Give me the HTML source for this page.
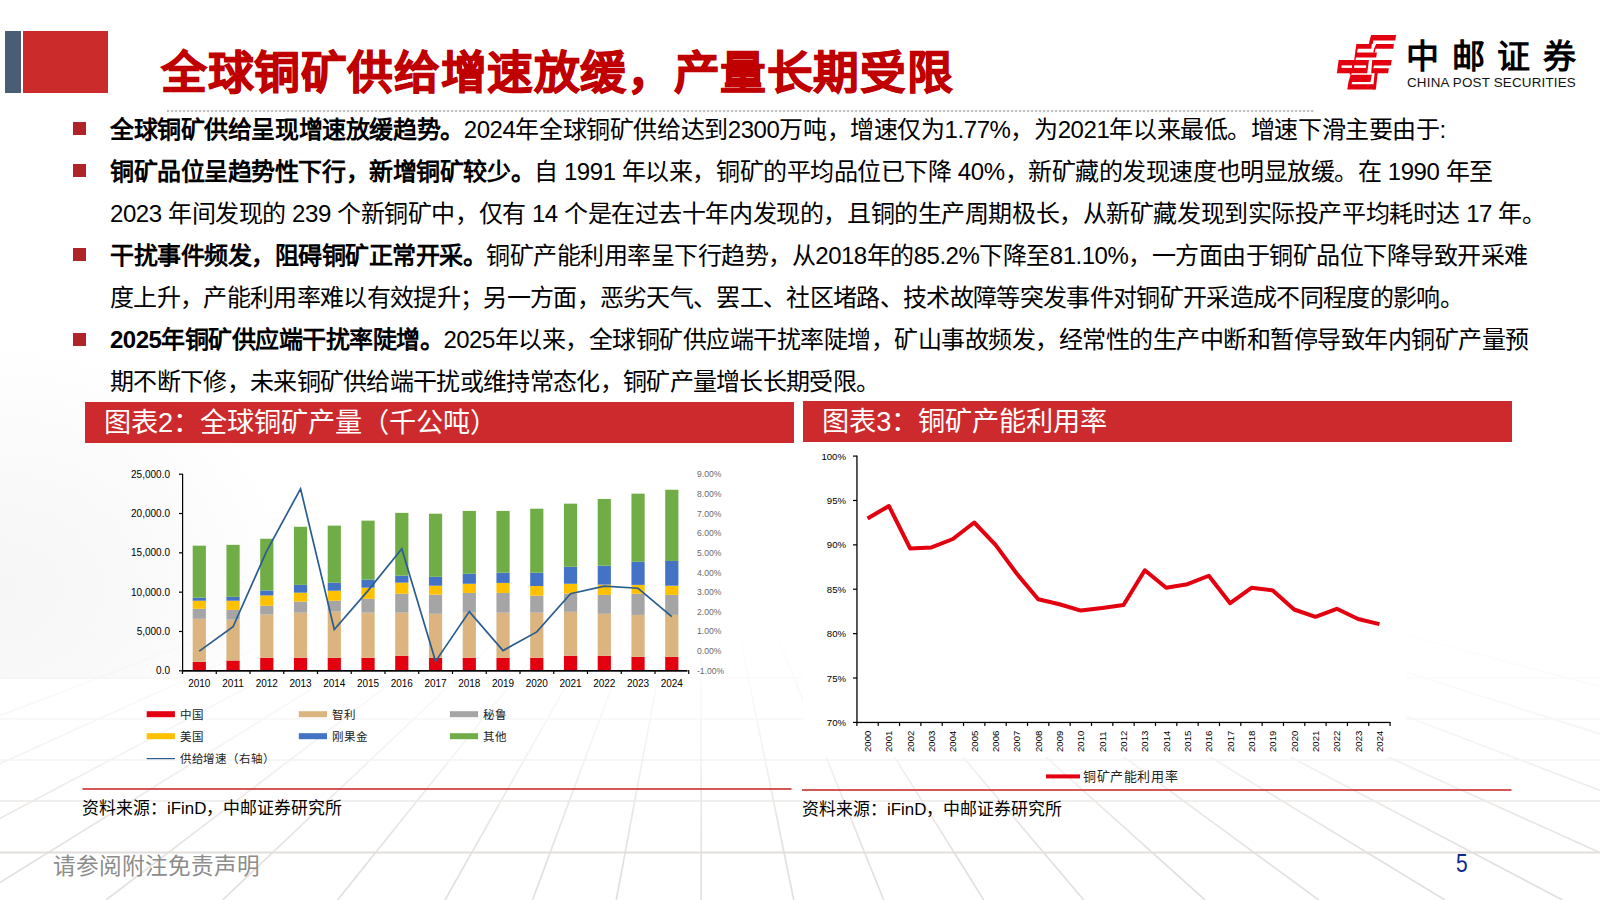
<!DOCTYPE html>
<html lang="zh-CN"><head><meta charset="utf-8">
<style>
html,body{margin:0;padding:0;}
body{width:1600px;height:900px;position:relative;overflow:hidden;background:#fff;font-family:"Liberation Sans",sans-serif;color:#000;}
.abs{position:absolute;white-space:nowrap;}
.bg{position:absolute;left:0;top:0;}
.line{position:absolute;left:110px;font-size:24px;line-height:30px;white-space:nowrap;color:#000;}
.line b{font-weight:bold;}
.bul{position:absolute;left:73.2px;width:13.1px;height:13.1px;background:#B02428;}
.hdr{position:absolute;background:#CC2A2D;color:#fff;font-size:27.2px;line-height:42px;white-space:nowrap;}
.src{position:absolute;font-size:16.9px;line-height:20px;white-space:nowrap;color:#000;}
svg text{font-family:"Liberation Sans",sans-serif;}
.ax{font-size:10px;fill:#000;}
.axr{font-size:8.6px;fill:#6A6A6A;}
.ax3{font-size:9.6px;fill:#000;}
.lg{font-size:11.5px;fill:#222;letter-spacing:0.9px;}
.lg3{font-size:13px;fill:#222;letter-spacing:0.6px;}
</style></head>
<body>
<svg class="bg" width="1600" height="900" viewBox="0 0 1600 900">
<defs>
<linearGradient id="fade" x1="0" y1="0" x2="0" y2="900" gradientUnits="userSpaceOnUse">
<stop offset="0" stop-color="#fff" stop-opacity="1"/>
<stop offset="0.69" stop-color="#fff" stop-opacity="1"/>
<stop offset="0.767" stop-color="#fff" stop-opacity="0.82"/>
<stop offset="0.845" stop-color="#fff" stop-opacity="0.6"/>
<stop offset="0.89" stop-color="#fff" stop-opacity="0.3"/>
<stop offset="0.96" stop-color="#fff" stop-opacity="0"/>
<stop offset="1" stop-color="#fff" stop-opacity="0"/>
</linearGradient>
<radialGradient id="shade" cx="0.5" cy="0.5" r="0.5">
<stop offset="0" stop-color="#000" stop-opacity="0.035"/>
<stop offset="0.5" stop-color="#000" stop-opacity="0.022"/>
<stop offset="1" stop-color="#000" stop-opacity="0"/>
</radialGradient>
<clipPath id="shclip"><rect x="0" y="0" width="1600" height="679"/></clipPath>
</defs>
<g stroke="#E4E0DD" stroke-width="1.7" fill="none">
<line x1="614.89" y1="480" x2="-481" y2="900"/>
<line x1="627.93" y1="480" x2="-302" y2="900"/>
<line x1="638.72" y1="480" x2="-154" y2="900"/>
<line x1="647.89" y1="480" x2="-28" y2="900"/>
<line x1="657.66" y1="480" x2="106" y2="900"/>
<line x1="666.14" y1="480" x2="222.5" y2="900"/>
<line x1="674.52" y1="480" x2="337.5" y2="900"/>
<line x1="682.35" y1="480" x2="445" y2="900"/>
<line x1="688.73" y1="480" x2="532.5" y2="900"/>
<line x1="694.83" y1="480" x2="616.25" y2="900"/>
<line x1="701.02" y1="480" x2="701.25" y2="900"/>
<line x1="707.76" y1="480" x2="793.75" y2="900"/>
<line x1="714.31" y1="480" x2="883.75" y2="900"/>
<line x1="721.6" y1="480" x2="983.75" y2="900"/>
<line x1="728.88" y1="480" x2="1083.75" y2="900"/>
<line x1="737.72" y1="480" x2="1205" y2="900"/>
<line x1="746" y1="480" x2="1318.75" y2="900"/>
<line x1="755.2" y1="480" x2="1445" y2="900"/>
<line x1="763.76" y1="480" x2="1562.5" y2="900"/>
<line x1="774.14" y1="480" x2="1705" y2="900"/>
<line x1="787.4" y1="480" x2="1887" y2="900"/>
<line x1="804.37" y1="480" x2="2120" y2="900"/>
<line x1="824.77" y1="480" x2="2400" y2="900"/>
<line x1="0" y1="596" x2="1600" y2="596"/>
<line x1="0" y1="637" x2="1600" y2="637"/>
<line x1="0" y1="678" x2="1600" y2="678"/>
<line x1="0" y1="719" x2="1600" y2="719"/>
<line x1="0" y1="760" x2="1600" y2="760"/>
<line x1="0" y1="801" x2="1600" y2="801"/>
</g>
<rect x="0" y="0" width="1600" height="900" fill="url(#fade)"/>
<line x1="0" y1="852.5" x2="1600" y2="852.5" stroke="#E3DFDC" stroke-width="2"/>
<ellipse cx="0" cy="590" rx="300" ry="250" fill="url(#shade)" clip-path="url(#shclip)"/>
<rect x="803" y="443" width="603" height="314" fill="#fff"/>
</svg>

<div class="abs" style="left:4.5px;top:31.2px;width:16.1px;height:62.3px;background:#4A5D77"></div>
<div class="abs" style="left:23.4px;top:31.2px;width:84.4px;height:62.3px;background:#CC2B2C"></div>
<div class="abs" id="title" style="left:161px;top:43.8px;font-size:45.8px;line-height:60px;font-weight:bold;color:#C00000;letter-spacing:0.6px;-webkit-text-stroke:1px #C00000">全球铜矿供给增速放缓，产量长期受限</div>

<svg class="bg" width="1600" height="900" viewBox="0 0 1600 900">
<svg x="1330" y="30" width="80" height="65" viewBox="0 0 1108 900">
<g fill="#E3000F">
<polygon points="570,70 915,70 905,145 600,145 592,195 540,195 548,145"/>
<polygon points="365,195 580,195 572,260 385,260 375,310 650,310 640,380 360,380 355,415 335,415 340,380"/>
<polygon points="640,195 885,195 877,260 630,260 622,310 600,310 610,260"/>
<polygon points="120,415 540,415 515,600 300,600 295,620 270,620 275,600 95,600"/>
<polygon points="585,415 855,415 843,490 610,490 600,530 815,530 805,600 570,600"/>
<polygon points="285,620 580,620 560,720 305,720 300,750 640,750 625,825 240,825 255,720"/>
<polygon points="625,530 668,530 635,825 595,825"/>
</g>
<g fill="#fff">
<rect x="160" y="490" width="145" height="35"/>
<rect x="335" y="490" width="165" height="35"/>
</g>
</svg>
<line x1="167" y1="111" x2="1315" y2="111" stroke="#BDBDBD" stroke-width="2.2" stroke-dasharray="2.2 1.8"/>
</svg>
<div class="abs" id="logo1" style="left:1406px;top:35.5px;font-size:33px;line-height:42px;font-weight:bold;letter-spacing:12.5px;color:#000">中邮证券</div>
<div class="abs" id="logo2" style="left:1407px;top:74.5px;font-size:13.4px;letter-spacing:0.19px;line-height:16px;color:#111">CHINA POST SECURITIES</div>

<div class="bul" style="top:122.1px"></div>
<div class="bul" style="top:164.1px"></div>
<div class="bul" style="top:248.3px"></div>
<div class="bul" style="top:332.5px"></div>

<div class="line" id="l1" style="top:115px;letter-spacing:-0.417px"><b>全球铜矿供给呈现增速放缓趋势。</b>2024年全球铜矿供给达到2300万吨，增速仅为1.77%，为2021年以来最低。增速下滑主要由于:</div>
<div class="line" id="l2" style="top:157px;letter-spacing:-0.439px"><b>铜矿品位呈趋势性下行，新增铜矿较少。</b>自 1991 年以来，铜矿的平均品位已下降 40%，新矿藏的发现速度也明显放缓。在 1990 年至</div>
<div class="line" id="l3" style="top:199px;letter-spacing:-0.424px">2023 年间发现的 239 个新铜矿中，仅有 14 个是在过去十年内发现的，且铜的生产周期极长，从新矿藏发现到实际投产平均耗时达 17 年。</div>
<div class="line" id="l4" style="top:241px;letter-spacing:-0.491px"><b>干扰事件频发，阻碍铜矿正常开采。</b>铜矿产能利用率呈下行趋势，从2018年的85.2%下降至81.10%，一方面由于铜矿品位下降导致开采难</div>
<div class="line" id="l5" style="top:283px;letter-spacing:-0.674px">度上升，产能利用率难以有效提升；另一方面，恶劣天气、罢工、社区堵路、技术故障等突发事件对铜矿开采造成不同程度的影响。</div>
<div class="line" id="l6" style="top:325px;letter-spacing:-0.499px"><b>2025年铜矿供应端干扰率陡增。</b>2025年以来，全球铜矿供应端干扰率陡增，矿山事故频发，经常性的生产中断和暂停导致年内铜矿产量预</div>
<div class="line" id="l7" style="top:367px;letter-spacing:-0.6875px">期不断下修，未来铜矿供给端干扰或维持常态化，铜矿产量增长长期受限。</div>

<div class="hdr" style="left:85px;top:402.3px;width:708.8px;height:41px"><span id="h2" style="position:absolute;left:19px;top:0">图表2：全球铜矿产量（千公吨）</span></div>
<div class="hdr" style="left:803.3px;top:401.1px;width:708.5px;height:41.3px"><span id="h3" style="position:absolute;left:19px;top:0">图表3：铜矿产能利用率</span></div>

<svg class="bg" width="1600" height="900" viewBox="0 0 1600 900">
<rect x="192.7" y="661.91" width="13.2" height="8.89" fill="#E3000F"/>
<rect x="192.7" y="618.8" width="13.2" height="43.1" fill="#DBB47F"/>
<rect x="192.7" y="608.79" width="13.2" height="10.01" fill="#A5A5A5"/>
<rect x="192.7" y="600.72" width="13.2" height="8.07" fill="#FFC000"/>
<rect x="192.7" y="597.66" width="13.2" height="3.06" fill="#4472C4"/>
<rect x="192.7" y="545.67" width="13.2" height="52" fill="#70AD47"/>
<rect x="226.45" y="660.51" width="13.2" height="10.29" fill="#E3000F"/>
<rect x="226.45" y="619.64" width="13.2" height="40.88" fill="#DBB47F"/>
<rect x="226.45" y="609.9" width="13.2" height="9.74" fill="#A5A5A5"/>
<rect x="226.45" y="600.72" width="13.2" height="9.18" fill="#FFC000"/>
<rect x="226.45" y="596.83" width="13.2" height="3.89" fill="#4472C4"/>
<rect x="226.45" y="544.83" width="13.2" height="52" fill="#70AD47"/>
<rect x="260.2" y="657.73" width="13.2" height="13.07" fill="#E3000F"/>
<rect x="260.2" y="614.63" width="13.2" height="43.1" fill="#DBB47F"/>
<rect x="260.2" y="605.73" width="13.2" height="8.89" fill="#A5A5A5"/>
<rect x="260.2" y="595.44" width="13.2" height="10.29" fill="#FFC000"/>
<rect x="260.2" y="590.44" width="13.2" height="5" fill="#4472C4"/>
<rect x="260.2" y="538.72" width="13.2" height="51.72" fill="#70AD47"/>
<rect x="293.95" y="657.73" width="13.2" height="13.07" fill="#E3000F"/>
<rect x="293.95" y="612.69" width="13.2" height="45.04" fill="#DBB47F"/>
<rect x="293.95" y="601.56" width="13.2" height="11.13" fill="#A5A5A5"/>
<rect x="293.95" y="592.66" width="13.2" height="8.89" fill="#FFC000"/>
<rect x="293.95" y="584.88" width="13.2" height="7.79" fill="#4472C4"/>
<rect x="293.95" y="526.76" width="13.2" height="58.11" fill="#70AD47"/>
<rect x="327.7" y="657.73" width="13.2" height="13.07" fill="#E3000F"/>
<rect x="327.7" y="611.58" width="13.2" height="46.15" fill="#DBB47F"/>
<rect x="327.7" y="600.72" width="13.2" height="10.85" fill="#A5A5A5"/>
<rect x="327.7" y="590.71" width="13.2" height="10.01" fill="#FFC000"/>
<rect x="327.7" y="582.65" width="13.2" height="8.06" fill="#4472C4"/>
<rect x="327.7" y="525.65" width="13.2" height="57.01" fill="#70AD47"/>
<rect x="361.45" y="657.73" width="13.2" height="13.07" fill="#E3000F"/>
<rect x="361.45" y="612.69" width="13.2" height="45.04" fill="#DBB47F"/>
<rect x="361.45" y="598.78" width="13.2" height="13.9" fill="#A5A5A5"/>
<rect x="361.45" y="587.65" width="13.2" height="11.13" fill="#FFC000"/>
<rect x="361.45" y="579.59" width="13.2" height="8.06" fill="#4472C4"/>
<rect x="361.45" y="520.64" width="13.2" height="58.96" fill="#70AD47"/>
<rect x="395.2" y="655.79" width="13.2" height="15.01" fill="#E3000F"/>
<rect x="395.2" y="612.69" width="13.2" height="43.1" fill="#DBB47F"/>
<rect x="395.2" y="593.77" width="13.2" height="18.91" fill="#A5A5A5"/>
<rect x="395.2" y="582.65" width="13.2" height="11.12" fill="#FFC000"/>
<rect x="395.2" y="575.7" width="13.2" height="6.95" fill="#4472C4"/>
<rect x="395.2" y="512.85" width="13.2" height="62.85" fill="#70AD47"/>
<rect x="428.95" y="657.73" width="13.2" height="13.07" fill="#E3000F"/>
<rect x="428.95" y="613.79" width="13.2" height="43.94" fill="#DBB47F"/>
<rect x="428.95" y="594.61" width="13.2" height="19.19" fill="#A5A5A5"/>
<rect x="428.95" y="585.71" width="13.2" height="8.89" fill="#FFC000"/>
<rect x="428.95" y="576.81" width="13.2" height="8.9" fill="#4472C4"/>
<rect x="428.95" y="513.69" width="13.2" height="63.12" fill="#70AD47"/>
<rect x="462.7" y="657.73" width="13.2" height="13.07" fill="#E3000F"/>
<rect x="462.7" y="612.69" width="13.2" height="45.04" fill="#DBB47F"/>
<rect x="462.7" y="592.94" width="13.2" height="19.75" fill="#A5A5A5"/>
<rect x="462.7" y="583.76" width="13.2" height="9.18" fill="#FFC000"/>
<rect x="462.7" y="573.75" width="13.2" height="10.01" fill="#4472C4"/>
<rect x="462.7" y="510.91" width="13.2" height="62.84" fill="#70AD47"/>
<rect x="496.45" y="657.73" width="13.2" height="13.07" fill="#E3000F"/>
<rect x="496.45" y="612.69" width="13.2" height="45.04" fill="#DBB47F"/>
<rect x="496.45" y="592.94" width="13.2" height="19.75" fill="#A5A5A5"/>
<rect x="496.45" y="582.93" width="13.2" height="10.01" fill="#FFC000"/>
<rect x="496.45" y="572.64" width="13.2" height="10.29" fill="#4472C4"/>
<rect x="496.45" y="510.91" width="13.2" height="61.73" fill="#70AD47"/>
<rect x="530.2" y="657.73" width="13.2" height="13.07" fill="#E3000F"/>
<rect x="530.2" y="612.69" width="13.2" height="45.04" fill="#DBB47F"/>
<rect x="530.2" y="595.72" width="13.2" height="16.96" fill="#A5A5A5"/>
<rect x="530.2" y="585.99" width="13.2" height="9.74" fill="#FFC000"/>
<rect x="530.2" y="572.64" width="13.2" height="13.35" fill="#4472C4"/>
<rect x="530.2" y="508.68" width="13.2" height="63.96" fill="#70AD47"/>
<rect x="563.95" y="655.79" width="13.2" height="15.01" fill="#E3000F"/>
<rect x="563.95" y="611.85" width="13.2" height="43.94" fill="#DBB47F"/>
<rect x="563.95" y="593.5" width="13.2" height="18.35" fill="#A5A5A5"/>
<rect x="563.95" y="583.76" width="13.2" height="9.74" fill="#FFC000"/>
<rect x="563.95" y="566.8" width="13.2" height="16.96" fill="#4472C4"/>
<rect x="563.95" y="503.67" width="13.2" height="63.12" fill="#70AD47"/>
<rect x="597.7" y="655.79" width="13.2" height="15.01" fill="#E3000F"/>
<rect x="597.7" y="613.79" width="13.2" height="41.99" fill="#DBB47F"/>
<rect x="597.7" y="594.89" width="13.2" height="18.91" fill="#A5A5A5"/>
<rect x="597.7" y="584.59" width="13.2" height="10.29" fill="#FFC000"/>
<rect x="597.7" y="565.69" width="13.2" height="18.91" fill="#4472C4"/>
<rect x="597.7" y="498.95" width="13.2" height="66.74" fill="#70AD47"/>
<rect x="631.45" y="656.9" width="13.2" height="13.9" fill="#E3000F"/>
<rect x="631.45" y="614.91" width="13.2" height="41.99" fill="#DBB47F"/>
<rect x="631.45" y="593.77" width="13.2" height="21.14" fill="#A5A5A5"/>
<rect x="631.45" y="584.88" width="13.2" height="8.89" fill="#FFC000"/>
<rect x="631.45" y="561.8" width="13.2" height="23.08" fill="#4472C4"/>
<rect x="631.45" y="493.66" width="13.2" height="68.13" fill="#70AD47"/>
<rect x="665.2" y="656.9" width="13.2" height="13.9" fill="#E3000F"/>
<rect x="665.2" y="614.91" width="13.2" height="41.99" fill="#DBB47F"/>
<rect x="665.2" y="594.89" width="13.2" height="20.02" fill="#A5A5A5"/>
<rect x="665.2" y="585.71" width="13.2" height="9.18" fill="#FFC000"/>
<rect x="665.2" y="560.96" width="13.2" height="24.75" fill="#4472C4"/>
<rect x="665.2" y="489.77" width="13.2" height="71.19" fill="#70AD47"/>
<rect x="182" y="474" width="1.2" height="197.5" fill="#000"/>
<rect x="182" y="670" width="505.5" height="1.7" fill="#000"/>
<rect x="179" y="670.2" width="4" height="1.2" fill="#000"/>
<rect x="179" y="630.88" width="4" height="1.2" fill="#000"/>
<rect x="179" y="591.56" width="4" height="1.2" fill="#000"/>
<rect x="179" y="552.24" width="4" height="1.2" fill="#000"/>
<rect x="179" y="512.92" width="4" height="1.2" fill="#000"/>
<rect x="179" y="473.6" width="4" height="1.2" fill="#000"/>
<rect x="181.9" y="670" width="1.2" height="4" fill="#000"/>
<rect x="215.65" y="670" width="1.2" height="4" fill="#000"/>
<rect x="249.4" y="670" width="1.2" height="4" fill="#000"/>
<rect x="283.15" y="670" width="1.2" height="4" fill="#000"/>
<rect x="316.9" y="670" width="1.2" height="4" fill="#000"/>
<rect x="350.65" y="670" width="1.2" height="4" fill="#000"/>
<rect x="384.4" y="670" width="1.2" height="4" fill="#000"/>
<rect x="418.15" y="670" width="1.2" height="4" fill="#000"/>
<rect x="451.9" y="670" width="1.2" height="4" fill="#000"/>
<rect x="485.65" y="670" width="1.2" height="4" fill="#000"/>
<rect x="519.4" y="670" width="1.2" height="4" fill="#000"/>
<rect x="553.15" y="670" width="1.2" height="4" fill="#000"/>
<rect x="586.9" y="670" width="1.2" height="4" fill="#000"/>
<rect x="620.65" y="670" width="1.2" height="4" fill="#000"/>
<rect x="654.4" y="670" width="1.2" height="4" fill="#000"/>
<rect x="688.15" y="670" width="1.2" height="4" fill="#000"/>
<text x="170" y="674.4" text-anchor="end" class="ax">0.0</text>
<text x="170" y="635.08" text-anchor="end" class="ax">5,000.0</text>
<text x="170" y="595.76" text-anchor="end" class="ax">10,000.0</text>
<text x="170" y="556.44" text-anchor="end" class="ax">15,000.0</text>
<text x="170" y="517.12" text-anchor="end" class="ax">20,000.0</text>
<text x="170" y="477.8" text-anchor="end" class="ax">25,000.0</text>
<text x="199.3" y="686.5" text-anchor="middle" class="ax">2010</text>
<text x="233.05" y="686.5" text-anchor="middle" class="ax">2011</text>
<text x="266.8" y="686.5" text-anchor="middle" class="ax">2012</text>
<text x="300.55" y="686.5" text-anchor="middle" class="ax">2013</text>
<text x="334.3" y="686.5" text-anchor="middle" class="ax">2014</text>
<text x="368.05" y="686.5" text-anchor="middle" class="ax">2015</text>
<text x="401.8" y="686.5" text-anchor="middle" class="ax">2016</text>
<text x="435.55" y="686.5" text-anchor="middle" class="ax">2017</text>
<text x="469.3" y="686.5" text-anchor="middle" class="ax">2018</text>
<text x="503.05" y="686.5" text-anchor="middle" class="ax">2019</text>
<text x="536.8" y="686.5" text-anchor="middle" class="ax">2020</text>
<text x="570.55" y="686.5" text-anchor="middle" class="ax">2021</text>
<text x="604.3" y="686.5" text-anchor="middle" class="ax">2022</text>
<text x="638.05" y="686.5" text-anchor="middle" class="ax">2023</text>
<text x="671.8" y="686.5" text-anchor="middle" class="ax">2024</text>
<text x="697" y="673.8" class="axr">-1.00%</text>
<text x="697" y="654.14" class="axr">0.00%</text>
<text x="697" y="634.48" class="axr">1.00%</text>
<text x="697" y="614.82" class="axr">2.00%</text>
<text x="697" y="595.16" class="axr">3.00%</text>
<text x="697" y="575.5" class="axr">4.00%</text>
<text x="697" y="555.84" class="axr">5.00%</text>
<text x="697" y="536.18" class="axr">6.00%</text>
<text x="697" y="516.52" class="axr">7.00%</text>
<text x="697" y="496.86" class="axr">8.00%</text>
<text x="697" y="477.2" class="axr">9.00%</text>
<polyline points="199.3,651.14 233.05,626.76 266.8,550.87 300.55,488.75 334.3,629.51 368.05,590.59 401.8,548.71 435.55,661.36 469.3,611.62 503.05,650.55 536.8,631.87 570.55,593.73 604.3,586.07 638.05,588.23 671.8,616.54" fill="none" stroke="#2A5D8F" stroke-width="1.7" stroke-linejoin="miter"/>
<rect x="146.7" y="711.2" width="28.2" height="6" fill="#E3000F"/>
<text x="179.7" y="718.5" class="lg">中国</text>
<rect x="298.8" y="711.2" width="28.2" height="6" fill="#DBB47F"/>
<text x="331.8" y="718.5" class="lg">智利</text>
<rect x="449.9" y="711.2" width="28.2" height="6" fill="#A5A5A5"/>
<text x="482.9" y="718.5" class="lg">秘鲁</text>
<rect x="146.7" y="733.2" width="28.2" height="6" fill="#FFC000"/>
<text x="179.7" y="740.5" class="lg">美国</text>
<rect x="298.8" y="733.2" width="28.2" height="6" fill="#4472C4"/>
<text x="331.8" y="740.5" class="lg">刚果金</text>
<rect x="449.9" y="733.2" width="28.2" height="6" fill="#70AD47"/>
<text x="482.9" y="740.5" class="lg">其他</text>
<rect x="146.7" y="758" width="28.2" height="1.2" fill="#2A5D8F"/>
<text x="179.7" y="762.8" class="lg">供给增速（右轴）</text>
<rect x="856.3" y="455.6" width="1.3" height="267.5" fill="#000"/>
<rect x="856.3" y="721.8" width="534" height="1.3" fill="#000"/>
<rect x="853" y="455.5" width="4" height="1.2" fill="#000"/>
<text x="846" y="459.7" text-anchor="end" class="ax3">100%</text>
<rect x="853" y="499.88" width="4" height="1.2" fill="#000"/>
<text x="846" y="504.08" text-anchor="end" class="ax3">95%</text>
<rect x="853" y="544.27" width="4" height="1.2" fill="#000"/>
<text x="846" y="548.47" text-anchor="end" class="ax3">90%</text>
<rect x="853" y="588.65" width="4" height="1.2" fill="#000"/>
<text x="846" y="592.85" text-anchor="end" class="ax3">85%</text>
<rect x="853" y="633.03" width="4" height="1.2" fill="#000"/>
<text x="846" y="637.23" text-anchor="end" class="ax3">80%</text>
<rect x="853" y="677.42" width="4" height="1.2" fill="#000"/>
<text x="846" y="681.62" text-anchor="end" class="ax3">75%</text>
<rect x="853" y="721.8" width="4" height="1.2" fill="#000"/>
<text x="846" y="726" text-anchor="end" class="ax3">70%</text>
<rect x="856.3" y="722" width="1.2" height="4" fill="#000"/>
<rect x="877.63" y="722" width="1.2" height="4" fill="#000"/>
<rect x="898.96" y="722" width="1.2" height="4" fill="#000"/>
<rect x="920.28" y="722" width="1.2" height="4" fill="#000"/>
<rect x="941.61" y="722" width="1.2" height="4" fill="#000"/>
<rect x="962.94" y="722" width="1.2" height="4" fill="#000"/>
<rect x="984.27" y="722" width="1.2" height="4" fill="#000"/>
<rect x="1005.6" y="722" width="1.2" height="4" fill="#000"/>
<rect x="1026.92" y="722" width="1.2" height="4" fill="#000"/>
<rect x="1048.25" y="722" width="1.2" height="4" fill="#000"/>
<rect x="1069.58" y="722" width="1.2" height="4" fill="#000"/>
<rect x="1090.91" y="722" width="1.2" height="4" fill="#000"/>
<rect x="1112.24" y="722" width="1.2" height="4" fill="#000"/>
<rect x="1133.56" y="722" width="1.2" height="4" fill="#000"/>
<rect x="1154.89" y="722" width="1.2" height="4" fill="#000"/>
<rect x="1176.22" y="722" width="1.2" height="4" fill="#000"/>
<rect x="1197.55" y="722" width="1.2" height="4" fill="#000"/>
<rect x="1218.88" y="722" width="1.2" height="4" fill="#000"/>
<rect x="1240.2" y="722" width="1.2" height="4" fill="#000"/>
<rect x="1261.53" y="722" width="1.2" height="4" fill="#000"/>
<rect x="1282.86" y="722" width="1.2" height="4" fill="#000"/>
<rect x="1304.19" y="722" width="1.2" height="4" fill="#000"/>
<rect x="1325.52" y="722" width="1.2" height="4" fill="#000"/>
<rect x="1346.84" y="722" width="1.2" height="4" fill="#000"/>
<rect x="1368.17" y="722" width="1.2" height="4" fill="#000"/>
<rect x="1389.5" y="722" width="1.2" height="4" fill="#000"/>
<text transform="translate(871.16,752) rotate(-90)" class="ax3">2000</text>
<text transform="translate(892.49,752) rotate(-90)" class="ax3">2001</text>
<text transform="translate(913.82,752) rotate(-90)" class="ax3">2002</text>
<text transform="translate(935.15,752) rotate(-90)" class="ax3">2003</text>
<text transform="translate(956.48,752) rotate(-90)" class="ax3">2004</text>
<text transform="translate(977.8,752) rotate(-90)" class="ax3">2005</text>
<text transform="translate(999.13,752) rotate(-90)" class="ax3">2006</text>
<text transform="translate(1020.46,752) rotate(-90)" class="ax3">2007</text>
<text transform="translate(1041.79,752) rotate(-90)" class="ax3">2008</text>
<text transform="translate(1063.12,752) rotate(-90)" class="ax3">2009</text>
<text transform="translate(1084.44,752) rotate(-90)" class="ax3">2010</text>
<text transform="translate(1105.77,752) rotate(-90)" class="ax3">2011</text>
<text transform="translate(1127.1,752) rotate(-90)" class="ax3">2012</text>
<text transform="translate(1148.43,752) rotate(-90)" class="ax3">2013</text>
<text transform="translate(1169.76,752) rotate(-90)" class="ax3">2014</text>
<text transform="translate(1191.08,752) rotate(-90)" class="ax3">2015</text>
<text transform="translate(1212.41,752) rotate(-90)" class="ax3">2016</text>
<text transform="translate(1233.74,752) rotate(-90)" class="ax3">2017</text>
<text transform="translate(1255.07,752) rotate(-90)" class="ax3">2018</text>
<text transform="translate(1276.4,752) rotate(-90)" class="ax3">2019</text>
<text transform="translate(1297.72,752) rotate(-90)" class="ax3">2020</text>
<text transform="translate(1319.05,752) rotate(-90)" class="ax3">2021</text>
<text transform="translate(1340.38,752) rotate(-90)" class="ax3">2022</text>
<text transform="translate(1361.71,752) rotate(-90)" class="ax3">2023</text>
<text transform="translate(1383.04,752) rotate(-90)" class="ax3">2024</text>
<polyline points="867.56,518.41 888.89,505.99 910.22,548.51 931.55,547.44 952.88,539.01 974.2,522.5 995.53,544.87 1016.86,573.8 1038.19,599.19 1059.52,604.25 1080.84,610.55 1102.17,607.98 1123.5,605.05 1144.83,570.25 1166.16,587.83 1187.48,584.19 1208.81,575.76 1230.14,603.19 1251.47,587.83 1272.8,590.4 1294.12,609.49 1315.45,616.86 1336.78,608.78 1358.11,618.99 1379.44,624.14" fill="none" stroke="#E3000F" stroke-width="4" stroke-linejoin="round"/>
<rect x="1046" y="774.4" width="34" height="4" fill="#E3000F"/>
<text x="1083" y="781" class="lg3">铜矿产能利用率</text>
<rect x="82.5" y="788.2" width="709" height="1.6" fill="#C9302F"/>
<rect x="802" y="789.2" width="709.5" height="1.6" fill="#C9302F"/>
</svg>

<div class="src" id="s1" style="left:82px;top:799px">资料来源：iFinD，中邮证券研究所</div>
<div class="src" id="s2" style="left:802px;top:800px">资料来源：iFinD，中邮证券研究所</div>
<div class="abs" id="foot" style="left:53px;top:851.5px;font-size:22.6px;line-height:30px;color:#8C8C8C">请参阅附注免责声明</div>
<div class="abs" id="pg" style="left:1456px;top:848px;font-size:25px;line-height:30px;color:#10298A;transform:scaleX(0.84);transform-origin:0 0">5</div>
</body></html>
